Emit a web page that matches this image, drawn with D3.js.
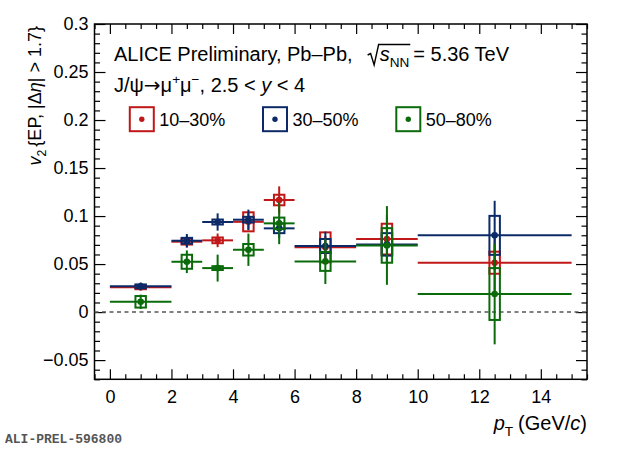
<!DOCTYPE html>
<html>
<head>
<meta charset="utf-8">
<script src="https://cdn.jsdelivr.net/npm/d3@7"></script>
<style>
  html, body { margin: 0; padding: 0; background: #fff; overflow: hidden; }
  text { font-family: "Liberation Sans", Arial, Helvetica, sans-serif; white-space: pre; }
</style>
</head>
<body>
<script>
// pT bins (GeV/c)
var ptLow  = [0, 2, 3, 4, 5, 6, 8, 10];
var ptHigh = [2, 3, 4, 5, 6, 8, 10, 15];
var ptMean = [1, 2.5, 3.5, 4.5, 5.5, 7, 9, 12.5];

// v2 values, statistical and systematic uncertainties per centrality class
var v2Cent1030   = [0.0258, 0.0733, 0.0747, 0.0940, 0.1167, 0.0674, 0.0760, 0.0514];
var stat1030     = [0.0030, 0.0060, 0.0071, 0.0090, 0.0142, 0.0120, 0.0250, 0.0300];
var sys1030      = [0.0020, 0.0030, 0.0030, 0.0099, 0.0055, 0.0156, 0.0160, 0.0115];

var v2Cent3050   = [0.0268, 0.0743, 0.0938, 0.0962, 0.0872, 0.0688, 0.0705, 0.0799];
var stat3050     = [0.0040, 0.0070, 0.0090, 0.0105, 0.0100, 0.0150, 0.0200, 0.0360];
var sys3050      = [0.0020, 0.0030, 0.0026, 0.0030, 0.0050, 0.0073, 0.0117, 0.0203];

var v2Cent5080   = [0.0107, 0.0524, 0.0458, 0.0649, 0.0924, 0.0528, 0.0694, 0.0188];
var stat5080     = [0.0075, 0.0118, 0.0140, 0.0168, 0.0217, 0.0236, 0.0410, 0.0524];
var sys5080      = [0.0060, 0.0073, 0.0020, 0.0060, 0.0060, 0.0099, 0.0180, 0.0270];

var seriesNames  = ["10–30%", "30–50%", "50–80%"];
var seriesColors = ["#c01818", "#0c2a68", "#0b6b0b"];

var xTicks = [0, 2, 4, 6, 8, 10, 12, 14];
var yTicks = [-0.05, 0, 0.05, 0.1, 0.15, 0.2, 0.25, 0.3];

var W = 620, H = 449;
var X0 = 94.5, X1 = 587, Y0 = 24, Y1 = 379.3;
var boxHalf = 0.17; // half width of systematic boxes in GeV/c

var svg = d3.select("body").append("svg")
    .attr("width", W)
    .attr("height", H);

var x = d3.scaleLinear().domain([-0.5, 15.5]).range([X0, X1]);
var y = d3.scaleLinear().domain([-0.07, 0.3]).range([Y1, Y0]);

//helper for text with italic / sub / sup pieces, returns end x
function rich(parent, x0, y0, segs, size) {
    var cx = x0;
    segs.forEach(function (s) {
        var small = s.sub || s.sup;
        var fs = small ? size * 0.68 : size;
        var dy = s.sub ? size * 0.3 : (s.sup ? -size * 0.38 : 0);
        var t = parent.append("text")
            .attr("x", cx)
            .attr("y", y0 + dy)
            .attr("font-size", fs)
            .attr("font-style", s.it ? "italic" : null)
            .attr("fill", "#000")
            .text(s.t);
        if (s.font) t.style("font-family", s.font);
        s.x0 = cx;
        cx += t.node().getComputedTextLength();
        s.x1 = cx;
        cx += (s.gap || 0);
    });
    return cx;
}

// minor + major ticks on all four sides
var minorX = d3.range(-0.5, 15.51, 0.5).filter(function (d) { return d % 2 !== 0; });
var minorY = d3.range(-7, 31).map(function (d) { return d / 100; })
    .filter(function (d) { return Math.abs(Math.round(d * 100) % 5) !== 0; });

function axisGroup(axis, tx, ty) {
    var g = svg.append("g").attr("transform", "translate(" + tx + "," + ty + ")").call(axis);
    g.select(".domain").remove();
    g.selectAll("line").attr("stroke", "#000").attr("stroke-width", 1.2);
    return g;
}

var yFmt = function (d) { return d === 0 ? "0" : String(+d.toFixed(2)).replace("-", "\u2212"); };

var gx = axisGroup(d3.axisBottom(x).tickValues(xTicks).tickSize(-10).tickPadding(11), 0, Y1);
axisGroup(d3.axisBottom(x).tickValues(minorX).tickSize(-5).tickFormat(""), 0, Y1);
axisGroup(d3.axisTop(x).tickValues(xTicks).tickSize(-10).tickFormat(""), 0, Y0);
axisGroup(d3.axisTop(x).tickValues(minorX).tickSize(-5).tickFormat(""), 0, Y0);

var gy = axisGroup(d3.axisLeft(y).tickValues(yTicks).tickSize(-11).tickPadding(6).tickFormat(yFmt), X0, 0);
axisGroup(d3.axisLeft(y).tickValues(minorY).tickSize(-5.5).tickFormat(""), X0, 0);
axisGroup(d3.axisRight(y).tickValues(yTicks).tickSize(-11).tickFormat(""), X1, 0);
axisGroup(d3.axisRight(y).tickValues(minorY).tickSize(-5.5).tickFormat(""), X1, 0);

gx.selectAll("text").attr("font-size", 18).attr("fill", "#000")
    .attr("font-family", "Liberation Sans, Arial, sans-serif");
gy.selectAll("text").attr("font-size", 18).attr("fill", "#000")
    .attr("font-family", "Liberation Sans, Arial, sans-serif");

//frame
svg.append("rect")
    .attr("x", X0).attr("y", Y0)
    .attr("width", X1 - X0).attr("height", Y1 - Y0)
    .attr("fill", "none")
    .attr("stroke", "#000")
    .attr("stroke-width", 1.5);

//zero line
svg.append("line")
    .attr("x1", X0).attr("x2", X1)
    .attr("y1", y(0)).attr("y2", y(0))
    .attr("stroke", "#555")
    .attr("stroke-width", 1.5)
    .attr("stroke-dasharray", "4,3.5");

// data
var series = [
    { v: v2Cent1030, stat: stat1030, sys: sys1030 },
    { v: v2Cent3050, stat: stat3050, sys: sys3050 },
    { v: v2Cent5080, stat: stat5080, sys: sys5080 }
];

series.forEach(function (s, k) {
    var col = seriesColors[k];
    var g = svg.append("g");
    var idx = d3.range(s.v.length);

    g.selectAll(".hbar").data(idx).enter().append("line")
        .attr("x1", function (i) { return x(ptLow[i]); })
        .attr("x2", function (i) { return x(ptHigh[i]); })
        .attr("y1", function (i) { return y(s.v[i]); })
        .attr("y2", function (i) { return y(s.v[i]); })
        .attr("stroke", col).attr("stroke-width", 2);

    g.selectAll(".vbar").data(idx).enter().append("line")
        .attr("x1", function (i) { return x(ptMean[i]); })
        .attr("x2", function (i) { return x(ptMean[i]); })
        .attr("y1", function (i) { return y(s.v[i] + s.stat[i]); })
        .attr("y2", function (i) { return y(s.v[i] - s.stat[i]); })
        .attr("stroke", col).attr("stroke-width", 2);

    g.selectAll(".sys").data(idx).enter().append("rect")
        .attr("x", function (i) { return x(ptMean[i] - boxHalf); })
        .attr("width", function (i) { return x(ptMean[i] + boxHalf) - x(ptMean[i] - boxHalf); })
        .attr("y", function (i) { return y(s.v[i] + s.sys[i]); })
        .attr("height", function (i) { return y(s.v[i] - s.sys[i]) - y(s.v[i] + s.sys[i]); })
        .attr("fill", "none")
        .attr("stroke", col).attr("stroke-width", 2);

    g.selectAll(".pt").data(idx).enter().append("circle")
        .attr("cx", function (i) { return x(ptMean[i]); })
        .attr("cy", function (i) { return y(s.v[i]); })
        .attr("r", 3.3)
        .attr("fill", col);
});

// header text
var tg = svg.append("g");
var l1 = [
    { t: "ALICE Preliminary, Pb\u2013Pb,", gap: 15 }
];
var rx = rich(tg, 114, 61, l1, 20);
var l1b = [
    { t: "s", it: true },
    { t: "NN", sub: true, gap: 4 },
    { t: "= 5.36 TeV" }
];
rich(tg, rx + 12, 61, l1b, 20);
tg.append("path")
    .attr("d", "M" + rx + "," + (61 - 6) + " l3,-1.5 l3.5,11.5 l4.5,-20.5 H" + (l1b[1].x1 + 1))
    .attr("fill", "none")
    .attr("stroke", "#000")
    .attr("stroke-width", 1.4);

rich(tg, 114, 92, [
    { t: "J/\u03C8" },
    { t: "\u2192", font: "DejaVu Sans" },
    { t: "\u03BC" },
    { t: "+", sup: true },
    { t: "\u03BC" },
    { t: "\u2212", sup: true },
    { t: ", 2.5 < " },
    { t: "y", it: true },
    { t: " < 4" }
], 20);

// legend
var legX = [141.8, 275, 408.3];
var legY = 119.2;
seriesNames.forEach(function (name, k) {
    svg.append("rect")
        .attr("x", legX[k] - 12).attr("y", legY - 12)
        .attr("width", 24).attr("height", 24)
        .attr("fill", "none")
        .attr("stroke", seriesColors[k]).attr("stroke-width", 2);
    svg.append("circle")
        .attr("cx", legX[k]).attr("cy", legY).attr("r", 2.7)
        .attr("fill", seriesColors[k]);
    svg.append("text")
        .attr("x", legX[k] + 17.5).attr("y", 126)
        .attr("font-size", 18)
        .text(name);
});

// x title, right aligned to the frame
var xt = svg.append("g");
var xSegs = [
    { t: "p", it: true },
    { t: "T", sub: true, gap: 5 },
    { t: "(GeV/" },
    { t: "c", it: true },
    { t: ")" }
];
var xEnd = rich(xt, 0, 430, xSegs, 20);
xt.attr("transform", "translate(" + (X1 - xEnd) + ",0)");

// y title, rotated, right aligned to the top
var yt = svg.append("g");
var ySegs = [
    { t: "v", it: true },
    { t: "2", sub: true, gap: 3 },
    { t: "{EP, |\u0394" },
    { t: "\u03B7", it: true },
    { t: "| > 1.7}" }
];
var yEnd = rich(yt, 0, 0, ySegs, 18);
yt.attr("transform", "translate(41," + (26 + yEnd) + ") rotate(-90)");

// preliminary id
svg.append("text")
    .attr("x", 5).attr("y", 443)
    .style("font-family", "Liberation Mono, Courier New, monospace")
    .attr("font-size", 13)
    .attr("font-weight", "bold")
    .attr("fill", "#555")
    .text("ALI-PREL-596800");
</script>
</body>
</html>
